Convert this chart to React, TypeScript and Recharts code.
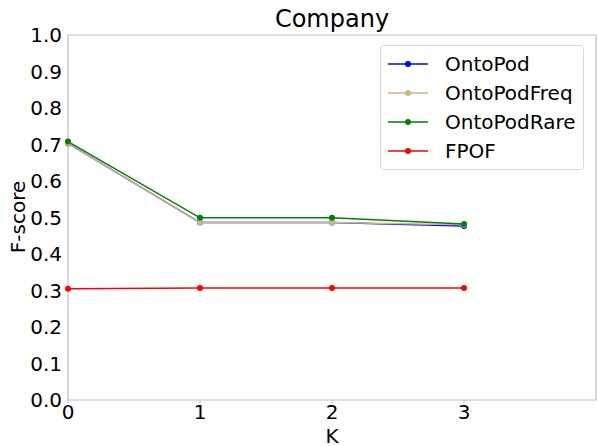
import { LineChart, Line, XAxis, YAxis, ReferenceArea } from 'recharts';

const K = [0, 1, 2, 3];
const ONTOPOD = [0.703, 0.486, 0.486, 0.477];
const ONTOPOD_FREQ = [0.703, 0.486, 0.486, 0.48];
const ONTOPOD_RARE = [0.708, 0.499, 0.499, 0.482];
const FPOF = [0.305, 0.307, 0.307, 0.307];
const Y_TICKS = [0, 0.1, 0.2, 0.3, 0.4, 0.5, 0.6, 0.7, 0.8, 0.9, 1.0];
const X_TICKS = [0, 1, 2, 3];

const SERIES = [
  { key: 'OntoPod', color: '#0000ff', values: ONTOPOD },
  { key: 'OntoPodFreq', color: '#d2b48c', values: ONTOPOD_FREQ },
  { key: 'OntoPodRare', color: '#008000', values: ONTOPOD_RARE },
  { key: 'FPOF', color: '#ff0000', values: FPOF },
];

const data = K.map((k, i) => {
  const row: Record<string, number> = { k };
  SERIES.forEach((s) => (row[s.key] = s.values[i]));
  return row;
});

const FONT = '"DejaVu Sans", sans-serif';

function LegendBox() {
  return (
    <div
      style={{
        position: 'absolute',
        left: 380,
        top: 45,
        width: 204,
        height: 125,
        boxSizing: 'border-box',
        border: '1px solid #d9d9d9',
        borderRadius: 4,
        background: '#fff',
        padding: '3px 0 0 7px',
        fontFamily: FONT,
        fontSize: 20,
        color: '#000',
      }}
    >
      {SERIES.map((s) => (
        <div key={s.key} style={{ display: 'flex', alignItems: 'center', height: 29 }}>
          <svg width={40} height={10} style={{ marginRight: 17 }}>
            <line x1={0} y1={5} x2={40} y2={5} stroke={s.color} strokeWidth={1.5} />
            <circle cx={20} cy={5} r={3} fill={s.color} />
          </svg>
          <span>{s.key}</span>
        </div>
      ))}
    </div>
  );
}

const textStyle = { position: 'absolute' as const, fontFamily: FONT, color: '#000', whiteSpace: 'nowrap' as const };

export default function App() {
  return (
    <div style={{ position: 'absolute', left: 0, top: 0, width: 598, height: 446, background: '#fff', overflow: 'hidden' }}>
      <LineChart
        width={598}
        height={446}
        data={data}
        margin={{ top: 35, right: 2, bottom: 0, left: 0 }}
        style={{ fontFamily: FONT }}
      >
        <ReferenceArea x1={0} x2={4} y1={0} y2={1} fill="none" stroke="#bfbfbf" strokeWidth={1.2} ifOverflow="visible" />
        <XAxis
          dataKey="k"
          type="number"
          domain={[0, 4]}
          ticks={X_TICKS}
          height={46}
          axisLine={false}
          tickLine={{ stroke: '#bfbfbf' }}
          tickSize={3}
          tick={{ fill: '#000', fontSize: 20 }}
        />
        <YAxis
          type="number"
          domain={[0, 1]}
          ticks={Y_TICKS}
          width={68}
          axisLine={false}
          tickLine={false}
          tickSize={4}
          tickFormatter={(v: number) => v.toFixed(1)}
          tick={{ fill: '#000', fontSize: 20 }}
        />
        {SERIES.map((s) => (
          <Line
            key={s.key}
            dataKey={s.key}
            stroke={s.color}
            strokeWidth={1.5}
            dot={{ r: 3, fill: s.color, stroke: s.color, strokeWidth: 0 }}
            activeDot={false}
            isAnimationActive={false}
          />
        ))}
      </LineChart>
      <div style={{ ...textStyle, left: 332, top: 19, transform: 'translate(-50%, -50%)', fontSize: 24 }}>Company</div>
      <div style={{ ...textStyle, left: 332, top: 436, transform: 'translate(-50%, -50%)', fontSize: 20 }}>K</div>
      <div style={{ ...textStyle, left: 18, top: 217, transform: 'translate(-50%, -50%) rotate(-90deg)', fontSize: 20 }}>F-score</div>
      <LegendBox />
    </div>
  );
}
